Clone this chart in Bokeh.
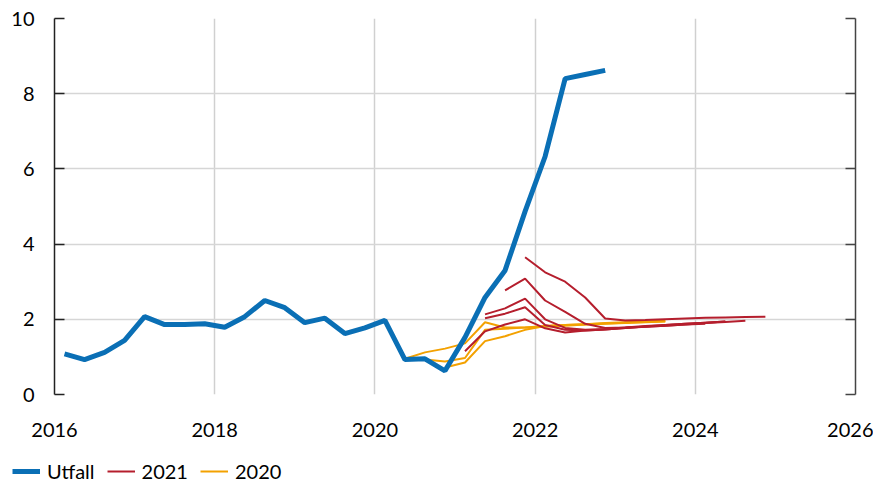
from bokeh.plotting import figure
from bokeh.layouts import column
from bokeh.models import LinearAxis, FixedTicker, Legend, LegendItem, ColumnDataSource, Range1d
from bokeh.embed import file_html
from bokeh.resources import INLINE

# ---- data ----
utfall_quarters_start = "2016Q1"
utfall = [1.08, 0.93, 1.12, 1.44, 2.07, 1.86, 1.86, 1.88, 1.79, 2.07, 2.50, 2.31,
          1.91, 2.03, 1.62, 1.77, 1.97, 0.93, 0.95, 0.63, 1.52, 2.58, 3.30, 4.87,
          6.33, 8.40, 8.51, 8.62]

red_starts = ["2021Q1", "2021Q2", "2021Q2", "2021Q3", "2021Q4"]
red_values = [
    [1.15, 1.68, 1.86, 2.00, 1.76, 1.65, 1.70, 1.73, 1.77, 1.80, 1.83, 1.86, 1.88],
    [2.13, 2.29, 2.55, 2.00, 1.77, 1.72, 1.74, 1.78, 1.82, 1.85, 1.88, 1.91, 1.94],
    [2.03, 2.15, 2.32, 1.85, 1.72, 1.70, 1.73, 1.77, 1.81, 1.85, 1.88, 1.91, 1.94],
    [2.77, 3.08, 2.50, 2.20, 1.88, 1.77, 1.78, 1.80, 1.83, 1.86, 1.90, 1.93, 1.96],
    [3.65, 3.25, 3.00, 2.58, 2.02, 1.97, 1.98, 2.00, 2.02, 2.04, 2.05, 2.06, 2.07],
]

orange_starts = ["2020Q2", "2020Q3", "2020Q4"]
orange_values = [
    [0.95, 1.12, 1.22, 1.36, 1.92, 1.78, 1.78, 1.80, 1.83, 1.86, 1.88, 1.90, 1.92, 1.94],
    [0.93, 0.88, 0.97, 1.72, 1.75, 1.78, 1.82, 1.85, 1.87, 1.89, 1.91, 1.93, 1.95],
    [0.72, 0.85, 1.42, 1.55, 1.72, 1.82, 1.85, 1.87, 1.90, 1.92, 1.94, 1.96],
]

x_ticks = [2016, 2018, 2020, 2022, 2024, 2026]
y_ticks = [0, 2, 4, 6, 8, 10]
legend_labels = ["Utfall", "2021", "2020"]

BLUE = "#0a6fb5"
RED = "#b51e2d"
ORANGE = "#f3a100"
FONT = "Lato"


def quarter_to_year(q):
    y, n = q.split("Q")
    return int(y) + (int(n) - 1) * 0.25 + 0.125


def series_x(start, n):
    x0 = quarter_to_year(start)
    return [x0 + 0.25 * i for i in range(n)]


ut_x = series_x(utfall_quarters_start, len(utfall))
osrc_data = dict(xs=[series_x(s, len(v)) for s, v in zip(orange_starts, orange_values)],
                 ys=orange_values)
rsrc_data = dict(xs=[series_x(s, len(v)) for s, v in zip(red_starts, red_values)],
                 ys=red_values)

p = figure(width=873, height=440, x_range=(2016, 2026), y_range=(0, 10),
           output_backend="svg", toolbar_location=None,
           min_border_left=54, min_border_right=18, min_border_top=18,
           min_border_bottom=46)
p.outline_line_color = None
p.background_fill_color = "white"
p.border_fill_color = "white"
p.frame_align = False

# grids
p.xgrid.ticker = FixedTicker(ticks=x_ticks)
p.ygrid.ticker = FixedTicker(ticks=y_ticks)
p.xgrid.grid_line_color = "#d0d0d0"
p.ygrid.grid_line_color = "#d6d6d6"
p.xgrid.grid_line_width = 1.5
p.ygrid.grid_line_width = 1.5

# x axis
xa = p.xaxis[0]
xa.ticker = FixedTicker(ticks=x_ticks)
xa.axis_line_color = None
xa.major_tick_line_color = None
xa.minor_tick_line_color = None
xa.major_label_text_font = FONT
xa.major_label_text_font_size = "20px"
xa.major_label_text_color = "black"
xa.major_label_standoff = 22

# left y axis
ya = p.yaxis[0]
ya.ticker = FixedTicker(ticks=y_ticks)
ya.axis_line_color = "#222222"
ya.axis_line_width = 1.5
ya.major_tick_in = 10
ya.major_tick_out = 0
ya.major_tick_line_color = "#222222"
ya.major_tick_line_width = 1.5
ya.minor_tick_line_color = None
ya.major_label_text_font = FONT
ya.major_label_text_font_size = "20px"
ya.major_label_text_color = "black"
ya.major_label_standoff = 20

# right y axis (ticks only)
ra = LinearAxis(ticker=FixedTicker(ticks=y_ticks))
ra.axis_line_color = "#444444"
ra.axis_line_width = 1.5
ra.major_tick_in = 10
ra.major_tick_out = 0
ra.major_tick_line_color = "#444444"
ra.major_tick_line_width = 1.5
ra.minor_tick_line_color = None
ra.major_label_overrides = {t: "" for t in y_ticks}
ra.major_label_standoff = 0
p.add_layout(ra, "right")

# forecasts
p.multi_line("xs", "ys", source=ColumnDataSource(osrc_data),
             line_color=ORANGE, line_width=2)
p.multi_line("xs", "ys", source=ColumnDataSource(rsrc_data),
             line_color=RED, line_width=2)
p.line(ut_x, utfall, line_color=BLUE, line_width=5)

# legend strip below the chart (same series, drawn outside its visible range)
lg = figure(width=873, height=45, output_backend="svg", toolbar_location=None,
            x_axis_location=None, y_axis_location=None,
            x_range=Range1d(0, 1), y_range=Range1d(0, 1),
            min_border_left=0, min_border_right=0, min_border_top=0,
            min_border_bottom=0)
lg.outline_line_color = None
lg.xgrid.visible = False
lg.ygrid.visible = False
lg.frame_align = False
k_ut = lg.line(ut_x, utfall, line_color=BLUE, line_width=5)
k_red = lg.multi_line("xs", "ys", source=ColumnDataSource(rsrc_data),
                      line_color=RED, line_width=2)
k_or = lg.multi_line("xs", "ys", source=ColumnDataSource(osrc_data),
                     line_color=ORANGE, line_width=2)

legend = Legend(items=[LegendItem(label=legend_labels[0], renderers=[k_ut]),
                       LegendItem(label=legend_labels[1], renderers=[k_red]),
                       LegendItem(label=legend_labels[2], renderers=[k_or])],
                orientation="horizontal", location=(12, 2),
                glyph_width=28, glyph_height=24, label_standoff=7, spacing=12,
                padding=0, margin=0, border_line_color=None,
                background_fill_alpha=0,
                label_text_font=FONT, label_text_font_size="20px",
                label_text_color="black")
lg.add_layout(legend, "center")

open("out.html", "w").write(file_html(column(p, lg, spacing=0), INLINE))
